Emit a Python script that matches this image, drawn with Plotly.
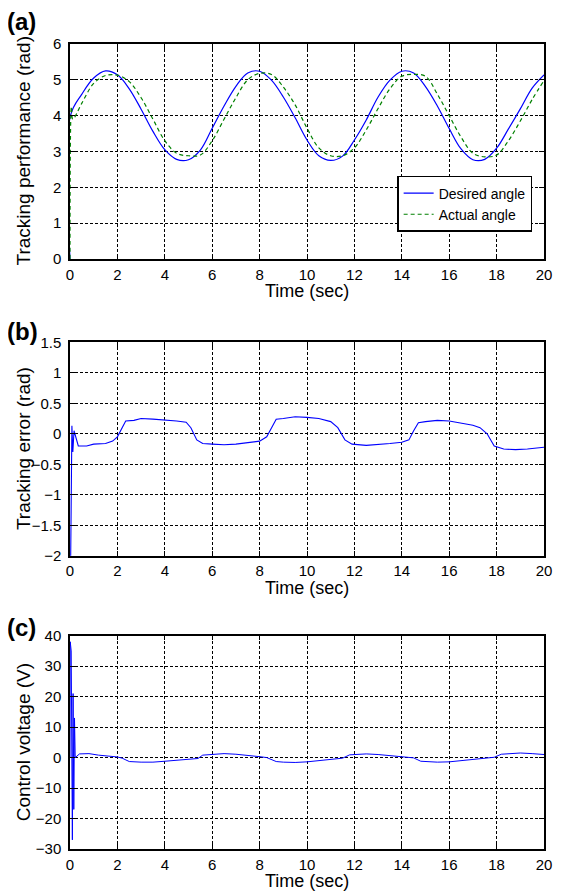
import plotly.graph_objects as go

# ---- data ----
t_des = [0, 0.02, 0.5, 1.0, 1.5, 2.0, 2.5, 3.0, 3.5, 4.0, 4.5, 5.0, 5.5, 6.0, 6.5, 7.0, 7.5, 8.0,
         8.5, 9.0, 9.5, 10.0, 10.5, 11.0, 11.5, 12.0, 12.5, 13.0, 13.5, 14.0, 14.5, 15.0, 15.5,
         16.0, 16.5, 17.0, 17.5, 18.0, 18.5, 19.0, 19.5, 20.0]
desired = [0, 4.0, 4.6, 5.05, 5.25, 5.14, 4.75, 4.18, 3.56, 3.05, 2.78, 2.77, 3.04, 3.65, 4.27,
           4.82, 5.19, 5.24, 4.99, 4.52, 3.94, 3.32, 2.88, 2.75, 2.87, 3.32, 3.88, 4.52, 4.99,
           5.24, 5.19, 4.81, 4.27, 3.64, 3.07, 2.77, 2.78, 3.09, 3.63, 4.19, 4.77, 5.14]

t_act = [0, 0.06, 0.12, 0.5, 1.0, 1.5, 2.0, 2.5, 3.0, 3.5, 4.0, 4.5, 5.0, 5.5, 6.0, 6.5, 7.0,
         7.5, 8.0, 8.5, 9.0, 9.5, 10.0, 10.5, 11.0, 11.5, 12.0, 12.5, 13.0, 13.5, 14.0, 14.5,
         15.0, 15.5, 16.0, 16.5, 17.0, 17.5, 18.0, 18.5, 19.0, 19.5, 20.0]
actual = [0, 4.25, 3.9, 4.35, 4.9, 5.12, 5.13, 4.95, 4.5, 3.9, 3.3, 2.95, 2.88, 2.9, 3.3, 3.9,
          4.5, 5.0, 5.18, 5.15, 4.8, 4.3, 3.65, 3.1, 2.88, 2.88, 3.1, 3.6, 4.2, 4.75, 5.1, 5.15,
          5.1, 4.6, 4.0, 3.4, 2.95, 2.85, 2.9, 3.3, 3.85, 4.45, 4.98]

t_err = [0, 0.03, 0.08, 0.12, 0.17, 0.35, 0.7, 1.0, 1.5, 1.8, 2.0, 2.2, 2.35, 2.7, 3.0, 3.5,
         4.0, 4.5, 4.9, 5.1, 5.35, 5.6, 6.0, 6.5, 7.0, 7.5, 8.0, 8.3, 8.5, 8.7, 9.0, 9.5, 10.0,
         10.5, 11.0, 11.3, 11.6, 11.9, 12.5, 13.0, 13.5, 14.0, 14.3, 14.5, 14.7, 15.0, 15.5,
         16.0, 16.5, 17.0, 17.3, 17.6, 17.9, 18.3, 18.8, 19.3, 20.0]
error = [-2.0, -2.0, 0.13, -0.3, 0.05, -0.2, -0.2, -0.17, -0.16, -0.12, -0.05, 0.1, 0.21, 0.22,
         0.25, 0.24, 0.23, 0.21, 0.19, 0.1, -0.1, -0.16, -0.17, -0.18, -0.17, -0.14, -0.12,
         -0.05, 0.1, 0.24, 0.25, 0.28, 0.27, 0.25, 0.2, 0.1, -0.1, -0.17, -0.19, -0.18, -0.16,
         -0.14, -0.1, 0.05, 0.18, 0.2, 0.22, 0.21, 0.17, 0.14, 0.1, 0.0, -0.2, -0.25, -0.26,
         -0.25, -0.22]

t_u = [0, 0.01, 0.05, 0.1, 0.13, 0.16, 0.19, 0.22, 0.4, 0.8, 1.2, 1.6, 2.0, 2.2, 2.5, 3.0, 3.5,
       4.0, 4.5, 5.0, 5.4, 5.6, 6.0, 6.5, 7.0, 7.5, 8.0, 8.3, 8.7, 9.0, 9.5, 10.0, 10.5, 11.0,
       11.5, 11.8, 12.5, 13.0, 13.5, 14.0, 14.5, 14.8, 15.5, 16.0, 16.5, 17.0, 17.5, 17.9, 18.2,
       19.0, 19.5, 20.0]
voltage = [0, 38, 35, -27, 21, -17, 13, 0, 1.2, 1.3, 0.8, 0.5, 0.2, -0.2, -1.3, -1.5, -1.5,
           -1.2, -0.8, -0.6, -0.3, 0.8, 1.0, 1.3, 1.1, 0.8, 0.3, 0.0, -1.3, -1.5, -1.6, -1.4,
           -1.0, -0.6, -0.2, 0.9, 1.2, 1.0, 0.7, 0.4, -0.1, -1.2, -1.5, -1.4, -1.0, -0.7, -0.3,
           0.1, 1.1, 1.5, 1.3, 1.0]

x_ticks = [0, 2, 4, 6, 8, 10, 12, 14, 16, 18, 20]
y_ticks_a = [0, 1, 2, 3, 4, 5, 6]
y_ticks_b = [-2, -1.5, -1, -0.5, 0, 0.5, 1, 1.5]
y_ticks_c = [-30, -20, -10, 0, 10, 20, 30, 40]

FONT = "Liberation Sans, Arial, sans-serif"
BLUE = "#0000ff"
GREEN = "#008000"

fig = go.Figure()
fig.add_trace(go.Scatter(x=t_des, y=desired, mode="lines", name="Desired angle",
                         line=dict(color=BLUE, width=1.2, shape="spline", smoothing=1.0),
                         xaxis="x", yaxis="y"))
fig.add_trace(go.Scatter(x=t_act, y=actual, mode="lines", name="Actual angle",
                         line=dict(color=GREEN, width=1.2, dash="4px,3px", shape="spline", smoothing=1.0),
                         xaxis="x", yaxis="y"))
fig.add_trace(go.Scatter(x=t_err, y=error, mode="lines", showlegend=False,
                         line=dict(color=BLUE, width=1.1), xaxis="x2", yaxis="y2"))
fig.add_trace(go.Scatter(x=t_u, y=voltage, mode="lines", showlegend=False,
                         line=dict(color=BLUE, width=1.0), xaxis="x3", yaxis="y3"))

domains = {"": [0.733, 1.0], "2": [0.3643, 0.6294], "3": [0.0, 0.265]}
yranges = {"": [0, 6], "2": [-2, 1.5], "3": [-30, 40]}
yticks = {"": y_ticks_a, "2": y_ticks_b, "3": y_ticks_c}

common = dict(showline=True, linecolor="black", linewidth=1.5, mirror="ticks",
              ticks="inside", ticklen=5, tickcolor="black",
              showgrid=True, gridcolor="black", gridwidth=1, griddash="3px,2px",
              zeroline=False, tickfont=dict(family=FONT, size=15, color="black"))

layout = {}
for k in ["", "2", "3"]:
    layout["xaxis" + k] = dict(common, domain=[0, 1], range=[0, 20], tickvals=x_ticks,
                               anchor="y" + k, ticklabelstandoff=1)
    layout["yaxis" + k] = dict(common, domain=domains[k], range=yranges[k], tickvals=yticks[k],
                               anchor="x" + k, ticklabelstandoff=4)
fig.update_layout(**layout)

annotations = []
ylabels = {"": "Tracking performance (rad)", "2": "Tracking error (rad)", "3": "Control voltage (V)"}
panels = {"": "(a)", "2": "(b)", "3": "(c)"}
panel_shift = {"": 23, "2": 11, "3": 8}
for k in ["", "2", "3"]:
    annotations.append(dict(text="Time (sec)", xref="x%s domain" % k, yref="y%s domain" % k,
                            x=0.5, y=0, yanchor="top", yshift=-20, showarrow=False,
                            font=dict(family=FONT, size=18, color="black")))
    annotations.append(dict(text=ylabels[k], xref="paper", yref="y%s domain" % k,
                            x=0, xshift=-47, y=0.5, textangle=-90, xanchor="center",
                            showarrow=False, font=dict(family=FONT, size=19, color="black")))
    annotations.append(dict(text="<b>%s</b>" % panels[k], xref="paper", yref="y%s domain" % k,
                            x=0, xshift=-65, y=1, yshift=panel_shift[k], xanchor="left",
                            yanchor="middle", showarrow=False,
                            font=dict(family=FONT, size=24, color="black")))

# the page body adds an 8px offset, so the figure is sized to end at the window edge
fig.update_layout(
    width=556, height=886,
    margin=dict(l=62, r=12, t=36, b=45),
    paper_bgcolor="white", plot_bgcolor="white",
    annotations=annotations,
    legend=dict(x=0.975, y=0.7665, xref="paper", yref="paper", xanchor="right", yanchor="bottom",
                bgcolor="white", bordercolor="black", borderwidth=1.5,
                font=dict(family=FONT, size=14, color="black"),
                tracegroupgap=0, itemwidth=30),
)

fig.write_html("out.html")
